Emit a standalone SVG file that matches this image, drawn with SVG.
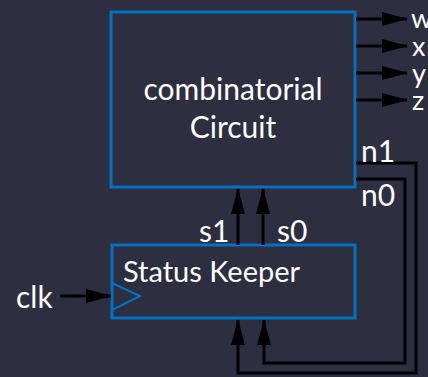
<svg xmlns="http://www.w3.org/2000/svg" width="428" height="377" viewBox="0 0 428 377">
<defs>
<style>
.box{fill:#2d2e40;stroke:#0070c0;stroke-width:3}
.wire{fill:none;stroke:#000;stroke-width:3}
.t{font-family:Lato,"Liberation Sans",sans-serif;fill:#fff;font-size:30px}
.s{font-size:27px}
</style>
<marker id="ah" markerUnits="userSpaceOnUse" markerWidth="26" markerHeight="14" refX="25" refY="7" orient="auto">
<path d="M0,0 L26,7 L0,14 Z" fill="#000"/>
</marker>
</defs>
<rect width="428" height="377" fill="#2d2e40"/>
<g id="combinatorial">
<rect class="box" x="111" y="12" width="244" height="175"/>
<text class="t" x="233" y="100" text-anchor="middle">combinatorial</text>
<text class="t" x="233" y="138" text-anchor="middle">Circuit</text>
</g>
<g id="status-keeper">
<rect class="box" x="112" y="245" width="243" height="73"/>
<text class="t" x="123" y="282" style="font-size:29px">Status Keeper</text>
<path d="M112,283 L140,296 L112,310" fill="none" stroke="#0070c0" stroke-width="2"/>
</g>
<g id="connectors">
<line class="wire" x1="356" y1="19" x2="407" y2="19" marker-end="url(#ah)"/>
<line class="wire" x1="356" y1="46" x2="407" y2="46" marker-end="url(#ah)"/>
<line class="wire" x1="356" y1="73" x2="407" y2="73" marker-end="url(#ah)"/>
<line class="wire" x1="356" y1="100" x2="407" y2="100" marker-end="url(#ah)"/>
<line class="wire" x1="238" y1="245" x2="238" y2="189" marker-end="url(#ah)"/>
<line class="wire" x1="263" y1="245" x2="263" y2="189" marker-end="url(#ah)"/>
<line class="wire" x1="60" y1="296" x2="111" y2="296" marker-end="url(#ah)"/>
<polyline class="wire" points="356,163 416,163 416,373 238,373 238,320" marker-end="url(#ah)"/>
<polyline class="wire" points="356,179 405,179 405,363 264,363 264,320" marker-end="url(#ah)"/>
</g>
<g id="labels">
<text class="t s" x="411" y="28">w</text>
<text class="t s" x="412" y="56">x</text>
<text class="t s" x="412" y="83">y</text>
<text class="t s" x="412" y="110">z</text>
<text class="t" x="361" y="162">n1</text>
<text class="t" x="361" y="206">n0</text>
<text class="t" x="199" y="242">s1</text>
<text class="t" x="277" y="242">s0</text>
<text class="t" x="16" y="308">clk</text>
</g>
</svg>
